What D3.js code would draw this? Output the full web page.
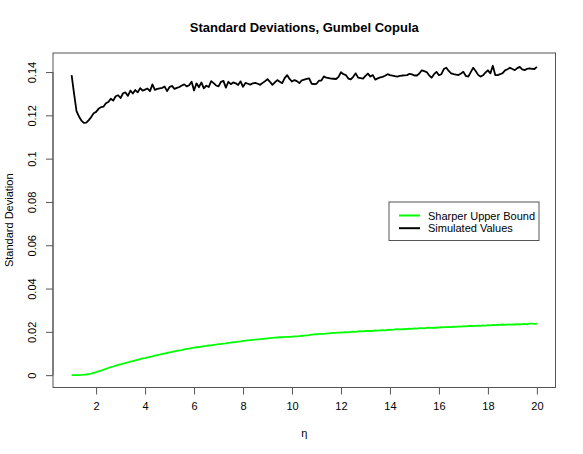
<!DOCTYPE html>
<html>
<head>
<meta charset="utf-8">
<script src="https://cdn.jsdelivr.net/npm/d3@7"></script>
<style>
  body { margin: 0; background: #fff; }
  text { font-family: "Liberation Sans", Arial, Helvetica, sans-serif; }
</style>
</head>
<body>
<svg id="chart" width="583" height="454"></svg>
<script>
// eta grid: 1.0, 1.1, ..., 20.0
const eta = d3.range(10, 201).map(d => d / 10);

const simulated = [
  0.1386, 0.1300, 0.1220, 0.1195, 0.1176, 0.1165, 0.1166, 0.1178, 0.1192, 0.1210,
  0.1216, 0.1230, 0.1238, 0.1240, 0.1256, 0.1262, 0.1277, 0.1268, 0.1288, 0.1293,
  0.1280, 0.1302, 0.1306, 0.1290, 0.1314, 0.1301, 0.1317, 0.1306, 0.1326, 0.1314,
  0.1319, 0.1324, 0.1312, 0.1343, 0.1318, 0.1322, 0.1325, 0.1327, 0.1333, 0.1312,
  0.1331, 0.1336, 0.1322, 0.1327, 0.1331, 0.1338, 0.1343, 0.1334, 0.1339, 0.1355,
  0.1315, 0.1348, 0.1330, 0.1352, 0.1325, 0.1337, 0.1331, 0.1358, 0.1349, 0.1338,
  0.1334, 0.1355, 0.1359, 0.1328, 0.1355, 0.1344, 0.1352, 0.1348, 0.1340, 0.1357,
  0.1332, 0.1350, 0.1346, 0.1342, 0.1348, 0.1350, 0.1346, 0.1341, 0.1350, 0.1358,
  0.1367, 0.1355, 0.1341, 0.1352, 0.1363, 0.1355, 0.1349, 0.1372, 0.1386, 0.1368,
  0.1356, 0.1363, 0.1358, 0.1349, 0.1362, 0.1365, 0.1368, 0.1371, 0.1346, 0.1344,
  0.1346, 0.1360, 0.1361, 0.1380, 0.1374, 0.1372, 0.1370, 0.1369, 0.1368, 0.1378,
  0.1399, 0.1390, 0.1386, 0.1370, 0.1366, 0.1378, 0.1394, 0.1374, 0.1372, 0.1370,
  0.1382, 0.1393, 0.1379, 0.1386, 0.1365, 0.1371, 0.1375, 0.1378, 0.1383, 0.1390,
  0.1386, 0.1384, 0.1381, 0.1379, 0.1382, 0.1384, 0.1385, 0.1386, 0.1392, 0.1389,
  0.1384, 0.1384, 0.1393, 0.1408, 0.1404, 0.1400, 0.1385, 0.1374, 0.1390, 0.1401,
  0.1385, 0.1390, 0.1414, 0.1420, 0.1405, 0.1394, 0.1390, 0.1388, 0.1386, 0.1393,
  0.1401, 0.1382, 0.1379, 0.1400, 0.1420, 0.1405, 0.1387, 0.1379, 0.1385, 0.1398,
  0.1408, 0.1394, 0.1429, 0.1386, 0.1386, 0.1390, 0.1395, 0.1408, 0.1413, 0.1420,
  0.1414, 0.1409, 0.1418, 0.1424, 0.1412, 0.1409, 0.1415, 0.1417, 0.1415, 0.1414,
  0.1424
];

const upperBound = [
  0.0000, 0.0000, 0.0000, 0.00005, 0.0001, 0.0002, 0.0003, 0.0005, 0.0007, 0.0010,
  0.0014, 0.0018, 0.0021, 0.0025, 0.0029, 0.0033, 0.0037, 0.0040, 0.0044, 0.0047,
  0.0050, 0.0053, 0.0056, 0.0059, 0.0062, 0.0065, 0.0068, 0.0071, 0.0074, 0.0077,
  0.0079, 0.0082, 0.0085, 0.0087, 0.0090, 0.0093, 0.0095, 0.0098, 0.0100, 0.0103,
  0.0105, 0.0107, 0.0110, 0.0112, 0.0114, 0.0116, 0.0119, 0.0121, 0.0123, 0.0125,
  0.0127, 0.0129, 0.0130, 0.0132, 0.0134, 0.0135, 0.0137, 0.0138, 0.0140, 0.0141,
  0.0143, 0.0144, 0.0146, 0.0147, 0.0149, 0.0150, 0.0152, 0.0153, 0.0155, 0.0156,
  0.0158, 0.0159, 0.0161, 0.0162, 0.0163, 0.0164, 0.0165, 0.0166, 0.0168, 0.0169,
  0.0170, 0.0171, 0.0172, 0.0173, 0.0174, 0.0175, 0.0175, 0.0176, 0.0177, 0.0177,
  0.0178, 0.0179, 0.0179, 0.0180, 0.0182, 0.0183, 0.0184, 0.0185, 0.0187, 0.0188,
  0.0189, 0.0190, 0.0191, 0.0191, 0.0192, 0.0193, 0.0194, 0.0195, 0.0195, 0.0196,
  0.0197, 0.0198, 0.0199, 0.0198, 0.0200, 0.0201, 0.0200, 0.0202, 0.0203, 0.0202,
  0.0204, 0.0205, 0.0204, 0.0205, 0.0207, 0.0206, 0.0207, 0.0208, 0.0207, 0.0209,
  0.0210, 0.0209, 0.0211, 0.0212, 0.0211, 0.0213, 0.0212, 0.0214, 0.0215, 0.0214,
  0.0216, 0.0215, 0.0217, 0.0217, 0.0216, 0.0218, 0.0219, 0.0218, 0.0220, 0.0219,
  0.0221, 0.0222, 0.0221, 0.0222, 0.0223, 0.0222, 0.0224, 0.0223, 0.0225, 0.0224,
  0.0226, 0.0225, 0.0227, 0.0228, 0.0226, 0.0228, 0.0229, 0.0228, 0.0230, 0.0229,
  0.0231, 0.0230, 0.0232, 0.0231, 0.0233, 0.0232, 0.0234, 0.0232, 0.0234, 0.0233,
  0.0235, 0.0234, 0.0236, 0.0234, 0.0236, 0.0237, 0.0235, 0.0238, 0.0238, 0.0237,
  0.0238
];

const xTicks = [2, 4, 6, 8, 10, 12, 14, 16, 18, 20];
const yTicks = [0, 0.02, 0.04, 0.06, 0.08, 0.1, 0.12, 0.14];
const yTickLabels = ["0", "0.02", "0.04", "0.06", "0.08", "0.1", "0.12", "0.14"];
const seriesNames = ["Sharper Upper Bound", "Simulated Values"];
const seriesColors = ["#00ff00", "#000000"];

const svg = d3.select("#chart");
const box = { left: 53, right: 555.5, top: 53, bottom: 387.5 };

const x = d3.scaleLinear().domain([0.24, 20.76]).range([box.left, box.right]);
const y = d3.scaleLinear().domain([-0.0057, 0.1488]).range([box.bottom, box.top]);

// plot box
svg.append("rect")
  .attr("x", box.left).attr("y", box.top)
  .attr("width", box.right - box.left).attr("height", box.bottom - box.top)
  .attr("fill", "none").attr("stroke", "#555").attr("stroke-width", 1);

// x axis
const xAxis = d3.axisBottom(x).tickValues(xTicks).tickSize(7).tickPadding(8).tickFormat(d3.format("d"));
const gx = svg.append("g").attr("transform", `translate(0,${box.bottom})`).call(xAxis);
gx.select(".domain").attr("d", `M${x(2)},0H${x(20)}`).attr("stroke", "#555");
gx.selectAll(".tick line").attr("stroke", "#555");
gx.selectAll("text").attr("font-size", 11).attr("fill", "#000")
  .attr("font-family", "Liberation Sans, Arial, sans-serif");

// y axis
const yAxis = d3.axisLeft(y).tickValues(yTicks).tickSize(7)
  .tickFormat((d, i) => yTickLabels[i]);
const gy = svg.append("g").attr("transform", `translate(${box.left},0)`).call(yAxis);
gy.select(".domain").attr("d", `M0,${y(0)}V${y(0.14)}`).attr("stroke", "#555");
gy.selectAll(".tick line").attr("stroke", "#555");
gy.selectAll(".tick text")
  .attr("x", null).attr("dy", null)
  .attr("transform", "translate(-21,0) rotate(-90)")
  .attr("text-anchor", "middle")
  .attr("dominant-baseline", "central")
  .attr("font-size", 11).attr("fill", "#000")
  .attr("font-family", "Liberation Sans, Arial, sans-serif");

// lines
const line = d3.line().x((d, i) => x(eta[i])).y(d => y(d));
svg.append("path").datum(upperBound)
  .attr("d", line).attr("fill", "none")
  .attr("stroke", seriesColors[0]).attr("stroke-width", 1.8).attr("stroke-linejoin", "round");
svg.append("path").datum(simulated)
  .attr("d", line).attr("fill", "none")
  .attr("stroke", seriesColors[1]).attr("stroke-width", 1.8).attr("stroke-linejoin", "round");

// title and labels
const cx = (box.left + box.right) / 2;
svg.append("text").attr("x", cx).attr("y", 32)
  .attr("text-anchor", "middle").attr("font-size", 13).attr("font-weight", "bold")
  .text("Standard Deviations, Gumbel Copula");
svg.append("text").attr("x", cx).attr("y", 437)
  .attr("text-anchor", "middle").attr("font-size", 11)
  .text("η");
svg.append("text")
  .attr("transform", `translate(9,${(box.top + box.bottom) / 2}) rotate(-90)`)
  .attr("text-anchor", "middle").attr("dominant-baseline", "central").attr("font-size", 11)
  .text("Standard Deviation");

// legend
const lg = svg.append("g");
lg.append("rect").attr("x", 389).attr("y", 202).attr("width", 150).attr("height", 38.5)
  .attr("fill", "#fff").attr("stroke", "#555").attr("stroke-width", 1);
seriesNames.forEach((name, i) => {
  const ly = 215.5 + i * 12.7;
  lg.append("line").attr("x1", 399).attr("x2", 420).attr("y1", ly).attr("y2", ly)
    .attr("stroke", seriesColors[i]).attr("stroke-width", 2);
  lg.append("text").attr("x", 428).attr("y", ly)
    .attr("dominant-baseline", "central").attr("font-size", 11)
    .text(name);
});
</script>
</body>
</html>
